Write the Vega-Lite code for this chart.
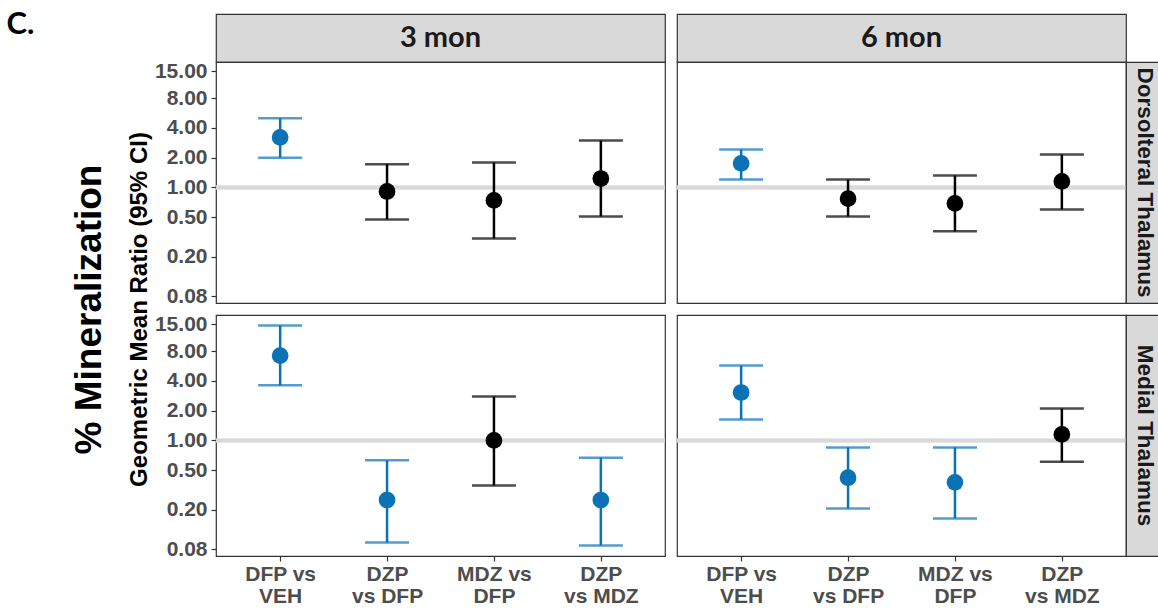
{
  "$schema": "https://vega.github.io/schema/vega-lite/v6.json",
  "padding": {"left": 6, "top": 9, "right": 0, "bottom": 0},
  "background": "white",
  "title": {"text": "C.", "anchor": "start", "frame": "bounds", "orient": "top", "offset": -28, "dx": -63, "font": "Lato", "fontSize": 31, "fontWeight": "bold", "color": "#000000"},
  "datasets": {
    "gmr": [
      {"region": "Dorsolteral Thalamus", "period": "3 mon", "comparison": "DFP vs VEH", "est": 3.2, "lo": 2.0, "hi": 5.0, "significant": "yes"},
      {"region": "Dorsolteral Thalamus", "period": "3 mon", "comparison": "DZP vs DFP", "est": 0.91, "lo": 0.475, "hi": 1.71, "significant": "no"},
      {"region": "Dorsolteral Thalamus", "period": "3 mon", "comparison": "MDZ vs DFP", "est": 0.74, "lo": 0.305, "hi": 1.79, "significant": "no"},
      {"region": "Dorsolteral Thalamus", "period": "3 mon", "comparison": "DZP vs MDZ", "est": 1.23, "lo": 0.51, "hi": 2.98, "significant": "no"},
      {"region": "Dorsolteral Thalamus", "period": "6 mon", "comparison": "DFP vs VEH", "est": 1.75, "lo": 1.2, "hi": 2.42, "significant": "yes"},
      {"region": "Dorsolteral Thalamus", "period": "6 mon", "comparison": "DZP vs DFP", "est": 0.77, "lo": 0.51, "hi": 1.2, "significant": "no"},
      {"region": "Dorsolteral Thalamus", "period": "6 mon", "comparison": "MDZ vs DFP", "est": 0.69, "lo": 0.36, "hi": 1.32, "significant": "no"},
      {"region": "Dorsolteral Thalamus", "period": "6 mon", "comparison": "DZP vs MDZ", "est": 1.15, "lo": 0.6, "hi": 2.15, "significant": "no"},
      {"region": "Medial Thalamus", "period": "3 mon", "comparison": "DFP vs VEH", "est": 7.2, "lo": 3.6, "hi": 14.5, "significant": "yes"},
      {"region": "Medial Thalamus", "period": "3 mon", "comparison": "DZP vs DFP", "est": 0.25, "lo": 0.093, "hi": 0.63, "significant": "yes"},
      {"region": "Medial Thalamus", "period": "3 mon", "comparison": "MDZ vs DFP", "est": 1.0, "lo": 0.35, "hi": 2.78, "significant": "no"},
      {"region": "Medial Thalamus", "period": "3 mon", "comparison": "DZP vs MDZ", "est": 0.25, "lo": 0.087, "hi": 0.67, "significant": "yes"},
      {"region": "Medial Thalamus", "period": "6 mon", "comparison": "DFP vs VEH", "est": 3.05, "lo": 1.63, "hi": 5.7, "significant": "yes"},
      {"region": "Medial Thalamus", "period": "6 mon", "comparison": "DZP vs DFP", "est": 0.42, "lo": 0.205, "hi": 0.85, "significant": "yes"},
      {"region": "Medial Thalamus", "period": "6 mon", "comparison": "MDZ vs DFP", "est": 0.377, "lo": 0.163, "hi": 0.85, "significant": "yes"},
      {"region": "Medial Thalamus", "period": "6 mon", "comparison": "DZP vs MDZ", "est": 1.15, "lo": 0.61, "hi": 2.1, "significant": "no"}
    ]
  },
  "columns": 4,
  "spacing": 0,
  "bounds": "flush",
  "align": "each",
  "concat": [
    {"width": 449, "height": 48, "view": {"fill": "#d9d9d9", "stroke": "#333333", "strokeWidth": 1.2},
     "data": {"values": [{"period": "3 mon"}]},
     "mark": {"type": "text", "font": "Lato", "fontSize": 29, "fontWeight": "bold", "color": "#1a1a1a"},
     "encoding": {"text": {"field": "period"}}},
    {"width": 12, "height": 48, "data": {"values": []}, "mark": "text"},
    {"width": 449, "height": 48, "view": {"fill": "#d9d9d9", "stroke": "#333333", "strokeWidth": 1.2},
     "data": {"values": [{"period": "6 mon"}]},
     "mark": {"type": "text", "font": "Lato", "fontSize": 29, "fontWeight": "bold", "color": "#1a1a1a"},
     "encoding": {"text": {"field": "period"}}},
    {"width": 38, "height": 48, "data": {"values": []}, "mark": "text"},

    {"width": 449, "height": 241, "view": {"fill": "white", "stroke": "#333333", "strokeWidth": 1.2},
     "data": {"name": "gmr"},
     "transform": [{"filter": "datum.region == 'Dorsolteral Thalamus' && datum.period == '3 mon'"}],
     "layer": [
       {"mark": {"type": "rule", "color": "#d9d9d9", "strokeWidth": 3.5},
        "encoding": {"y": {"datum": 1, "type": "quantitative", "scale": {"type": "log", "domain": [0.068, 18.5], "nice": false, "zero": false},
          "axis": {"values": [0.08, 0.2, 0.5, 1, 2, 4, 8, 15], "format": ".2f", "labelFont": "Liberation Sans", "labelFontSize": 21, "labelFontWeight": "bold", "labelColor": "#4d4d4d", "tickColor": "#333333", "tickSize": 5, "tickWidth": 1.2, "labelPadding": 4, "domain": false, "grid": false,
            "title": "% Mineralization", "titleFont": "Liberation Sans", "titleFontSize": 37, "titleFontWeight": "bold", "titleColor": "#000000", "titleAngle": 270, "titleAlign": "center", "titleBaseline": "alphabetic", "titleX": -116, "titleY": 247}}}},
       {"mark": {"type": "rule", "strokeWidth": 2.5},
        "encoding": {"x": {"field": "comparison", "type": "nominal", "scale": {"type": "point", "padding": 0.6, "domain": ["DFP vs VEH", "DZP vs DFP", "MDZ vs DFP", "DZP vs MDZ"]}, "axis": null},
          "y": {"field": "lo", "type": "quantitative"}, "y2": {"field": "hi"},
          "color": {"field": "significant", "type": "nominal", "scale": {"domain": ["yes", "no"], "range": ["#0b72b5", "#000000"]}, "legend": null}}},
       {"mark": {"type": "tick", "orient": "horizontal", "size": 44, "thickness": 2.5},
        "encoding": {"x": {"field": "comparison", "type": "nominal"}, "y": {"field": "lo", "type": "quantitative"},
          "color": {"field": "significant", "type": "nominal", "legend": null}}},
       {"mark": {"type": "tick", "orient": "horizontal", "size": 44, "thickness": 2.5},
        "encoding": {"x": {"field": "comparison", "type": "nominal"}, "y": {"field": "hi", "type": "quantitative"},
          "color": {"field": "significant", "type": "nominal", "legend": null}}},
       {"mark": {"type": "circle", "size": 280, "opacity": 1},
        "encoding": {"x": {"field": "comparison", "type": "nominal"}, "y": {"field": "est", "type": "quantitative"},
          "color": {"field": "significant", "type": "nominal", "legend": null}}}
     ]},
    {"width": 12, "height": 241, "data": {"values": []}, "mark": "text"},
    {"width": 449, "height": 241, "view": {"fill": "white", "stroke": "#333333", "strokeWidth": 1.2},
     "data": {"name": "gmr"},
     "transform": [{"filter": "datum.region == 'Dorsolteral Thalamus' && datum.period == '6 mon'"}],
     "layer": [
       {"mark": {"type": "rule", "color": "#d9d9d9", "strokeWidth": 3.5},
        "encoding": {"y": {"datum": 1, "type": "quantitative", "scale": {"type": "log", "domain": [0.068, 18.5], "nice": false, "zero": false}, "axis": null}}},
       {"mark": {"type": "rule", "strokeWidth": 2.5},
        "encoding": {"x": {"field": "comparison", "type": "nominal", "scale": {"type": "point", "padding": 0.6, "domain": ["DFP vs VEH", "DZP vs DFP", "MDZ vs DFP", "DZP vs MDZ"]}, "axis": null},
          "y": {"field": "lo", "type": "quantitative"}, "y2": {"field": "hi"},
          "color": {"field": "significant", "type": "nominal", "scale": {"domain": ["yes", "no"], "range": ["#0b72b5", "#000000"]}, "legend": null}}},
       {"mark": {"type": "tick", "orient": "horizontal", "size": 44, "thickness": 2.5},
        "encoding": {"x": {"field": "comparison", "type": "nominal"}, "y": {"field": "lo", "type": "quantitative"},
          "color": {"field": "significant", "type": "nominal", "legend": null}}},
       {"mark": {"type": "tick", "orient": "horizontal", "size": 44, "thickness": 2.5},
        "encoding": {"x": {"field": "comparison", "type": "nominal"}, "y": {"field": "hi", "type": "quantitative"},
          "color": {"field": "significant", "type": "nominal", "legend": null}}},
       {"mark": {"type": "circle", "size": 280, "opacity": 1},
        "encoding": {"x": {"field": "comparison", "type": "nominal"}, "y": {"field": "est", "type": "quantitative"},
          "color": {"field": "significant", "type": "nominal", "legend": null}}}
     ]},
    {"width": 38, "height": 241, "view": {"fill": "#d9d9d9", "stroke": "#333333", "strokeWidth": 1.2},
     "data": {"values": [{"region": "Dorsolteral Thalamus"}]},
     "mark": {"type": "text", "angle": 90, "dy": 0, "font": "Liberation Sans", "fontSize": 22.5, "fontWeight": "bold", "color": "#1a1a1a"},
     "encoding": {"text": {"field": "region"}}},

    {"width": 449, "height": 12, "data": {"values": []}, "mark": "text"},
    {"width": 12, "height": 12, "data": {"values": []}, "mark": "text"},
    {"width": 449, "height": 12, "data": {"values": []}, "mark": "text"},
    {"width": 38, "height": 12, "data": {"values": []}, "mark": "text"},

    {"width": 449, "height": 241, "view": {"fill": "white", "stroke": "#333333", "strokeWidth": 1.2},
     "data": {"name": "gmr"},
     "transform": [{"filter": "datum.region == 'Medial Thalamus' && datum.period == '3 mon'"}],
     "layer": [
       {"mark": {"type": "rule", "color": "#d9d9d9", "strokeWidth": 3.5},
        "encoding": {"y": {"datum": 1, "type": "quantitative", "scale": {"type": "log", "domain": [0.068, 18.5], "nice": false, "zero": false},
          "axis": {"values": [0.08, 0.2, 0.5, 1, 2, 4, 8, 15], "format": ".2f", "labelFont": "Liberation Sans", "labelFontSize": 21, "labelFontWeight": "bold", "labelColor": "#4d4d4d", "tickColor": "#333333", "tickSize": 5, "tickWidth": 1.2, "labelPadding": 4, "domain": false, "grid": false,
            "title": "Geometric Mean Ratio (95% CI)", "titleFont": "Liberation Sans", "titleFontSize": 24, "titleFontWeight": "bold", "titleColor": "#000000", "titleAngle": 270, "titleAlign": "center", "titleBaseline": "alphabetic", "titleX": -70, "titleY": -6}}}},
       {"mark": {"type": "rule", "strokeWidth": 2.5},
        "encoding": {"x": {"field": "comparison", "type": "nominal", "scale": {"type": "point", "padding": 0.6, "domain": ["DFP vs VEH", "DZP vs DFP", "MDZ vs DFP", "DZP vs MDZ"]},
            "axis": {"labelExpr": "datum.value == 'DFP vs VEH' ? ['DFP vs', 'VEH'] : datum.value == 'DZP vs DFP' ? ['DZP', 'vs DFP'] : datum.value == 'MDZ vs DFP' ? ['MDZ vs', 'DFP'] : ['DZP', 'vs MDZ']", "labelAngle": 0, "labelFont": "Liberation Sans", "labelFontSize": 21, "labelFontWeight": "bold", "labelColor": "#4d4d4d", "labelLineHeight": 22, "tickColor": "#333333", "tickSize": 5, "tickWidth": 1.2, "labelPadding": 2, "domain": false, "grid": false, "title": null}},
          "y": {"field": "lo", "type": "quantitative"}, "y2": {"field": "hi"},
          "color": {"field": "significant", "type": "nominal", "scale": {"domain": ["yes", "no"], "range": ["#0b72b5", "#000000"]}, "legend": null}}},
       {"mark": {"type": "tick", "orient": "horizontal", "size": 44, "thickness": 2.5},
        "encoding": {"x": {"field": "comparison", "type": "nominal"}, "y": {"field": "lo", "type": "quantitative"},
          "color": {"field": "significant", "type": "nominal", "legend": null}}},
       {"mark": {"type": "tick", "orient": "horizontal", "size": 44, "thickness": 2.5},
        "encoding": {"x": {"field": "comparison", "type": "nominal"}, "y": {"field": "hi", "type": "quantitative"},
          "color": {"field": "significant", "type": "nominal", "legend": null}}},
       {"mark": {"type": "circle", "size": 280, "opacity": 1},
        "encoding": {"x": {"field": "comparison", "type": "nominal"}, "y": {"field": "est", "type": "quantitative"},
          "color": {"field": "significant", "type": "nominal", "legend": null}}}
     ]},
    {"width": 12, "height": 241, "data": {"values": []}, "mark": "text"},
    {"width": 449, "height": 241, "view": {"fill": "white", "stroke": "#333333", "strokeWidth": 1.2},
     "data": {"name": "gmr"},
     "transform": [{"filter": "datum.region == 'Medial Thalamus' && datum.period == '6 mon'"}],
     "layer": [
       {"mark": {"type": "rule", "color": "#d9d9d9", "strokeWidth": 3.5},
        "encoding": {"y": {"datum": 1, "type": "quantitative", "scale": {"type": "log", "domain": [0.068, 18.5], "nice": false, "zero": false}, "axis": null}}},
       {"mark": {"type": "rule", "strokeWidth": 2.5},
        "encoding": {"x": {"field": "comparison", "type": "nominal", "scale": {"type": "point", "padding": 0.6, "domain": ["DFP vs VEH", "DZP vs DFP", "MDZ vs DFP", "DZP vs MDZ"]},
            "axis": {"labelExpr": "datum.value == 'DFP vs VEH' ? ['DFP vs', 'VEH'] : datum.value == 'DZP vs DFP' ? ['DZP', 'vs DFP'] : datum.value == 'MDZ vs DFP' ? ['MDZ vs', 'DFP'] : ['DZP', 'vs MDZ']", "labelAngle": 0, "labelFont": "Liberation Sans", "labelFontSize": 21, "labelFontWeight": "bold", "labelColor": "#4d4d4d", "labelLineHeight": 22, "tickColor": "#333333", "tickSize": 5, "tickWidth": 1.2, "labelPadding": 2, "domain": false, "grid": false, "title": null}},
          "y": {"field": "lo", "type": "quantitative"}, "y2": {"field": "hi"},
          "color": {"field": "significant", "type": "nominal", "scale": {"domain": ["yes", "no"], "range": ["#0b72b5", "#000000"]}, "legend": null}}},
       {"mark": {"type": "tick", "orient": "horizontal", "size": 44, "thickness": 2.5},
        "encoding": {"x": {"field": "comparison", "type": "nominal"}, "y": {"field": "lo", "type": "quantitative"},
          "color": {"field": "significant", "type": "nominal", "legend": null}}},
       {"mark": {"type": "tick", "orient": "horizontal", "size": 44, "thickness": 2.5},
        "encoding": {"x": {"field": "comparison", "type": "nominal"}, "y": {"field": "hi", "type": "quantitative"},
          "color": {"field": "significant", "type": "nominal", "legend": null}}},
       {"mark": {"type": "circle", "size": 280, "opacity": 1},
        "encoding": {"x": {"field": "comparison", "type": "nominal"}, "y": {"field": "est", "type": "quantitative"},
          "color": {"field": "significant", "type": "nominal", "legend": null}}}
     ]},
    {"width": 38, "height": 241, "view": {"fill": "#d9d9d9", "stroke": "#333333", "strokeWidth": 1.2},
     "data": {"values": [{"region": "Medial Thalamus"}]},
     "mark": {"type": "text", "angle": 90, "dy": 0, "font": "Liberation Sans", "fontSize": 22.5, "fontWeight": "bold", "color": "#1a1a1a"},
     "encoding": {"text": {"field": "region"}}}
  ],
  "config": {"view": {"stroke": null}, "font": "Liberation Sans"}
}
